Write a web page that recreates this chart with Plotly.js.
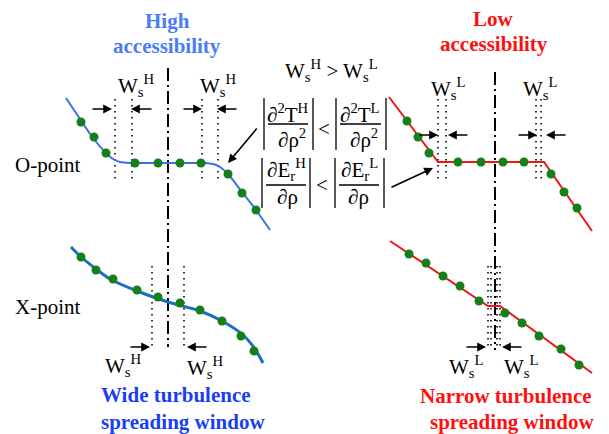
<!DOCTYPE html>
<html><head><meta charset="utf-8">
<script src="https://cdn.plot.ly/plotly-3.0.1.min.js"></script>
<style>html,body{margin:0;padding:0;background:#fff}#chart{width:609px;height:434px}</style>
</head><body><div id="chart"></div><script>
// ---- profile curves (schematic coordinates) ----
const oHighCurveX = [66, 82, 93, 106, 113, 120, 130, 160, 190, 205, 213, 220, 228, 242, 256, 270];
const oHighCurveY = [98, 122, 138, 153, 159, 162, 163, 163, 163, 163, 164, 167, 174, 192, 210, 230];
const oHighDotsX = [81, 94, 106, 135, 158, 180, 201, 228, 242, 256];
const oHighDotsY = [122, 137, 153, 163, 163, 163, 163, 174, 193, 210];

const oLowCurveX = [389, 438, 544, 592];
const oLowCurveY = [97, 162, 162, 231];
const oLowDotsX = [407, 418, 429, 458, 481, 503, 524, 551, 564, 577];
const oLowDotsY = [121, 137, 153, 162, 162, 162, 162, 174, 192, 208];

const xHighCurveX = [71, 80, 96, 110, 137, 168, 200, 222, 243, 255, 263];
const xHighCurveY = [247, 256, 269, 279, 291, 302, 311, 321, 335, 349, 363];
const xHighDotsX = [81, 96, 113, 137, 158, 180, 200, 222, 241, 254];
const xHighDotsY = [257, 270, 279, 290, 297, 303, 310, 321, 336, 351];

const xLowCurveX = [390, 488, 500, 592];
const xLowCurveY = [241, 306, 306, 373];
const xLowDotsX = [409, 426, 443, 460, 479, 505, 522, 539, 561, 579];
const xLowDotsY = [254, 263, 276, 286, 301, 313, 323, 336, 349, 365];

// ---- window guides ----
const axisX = [168, 495];
const axisTop = [68, 72];
const axisBottom = [347, 350];
const oHighWinX = [115, 132, 202, 218];
const oLowWinX = [438, 446, 536, 541];
const oWinTop = 99, oWinBottom = 183;
const xHighWinX = [152, 184];
const xLowWinX = [488, 491, 497, 500];
const xWinTop = 266, xWinBottom = 349;

// arrows: [tailX, headX, y]
const oHighArrows = [[91, 112, 109], [153, 131, 109], [182, 202, 109], [238, 217, 109]];
const oLowArrows = [[418, 438, 135], [469, 448, 135], [517, 537, 135], [567, 546, 135]];
const xHighArrows = [[129, 150, 347], [208, 187, 347]];
const xLowArrows = [[465, 486, 347], [523, 502, 347]];
const pointerArrows = [[258, 127, 228, 163], [390, 188, 433, 168]];

// labels
const wLabels = [
  ['W<sub>s</sub><sup>H</sup>', 136, 85], ['W<sub>s</sub><sup>H</sup>', 218, 85],
  ['W<sub>s</sub><sup>L</sup>', 448, 88], ['W<sub>s</sub><sup>L</sup>', 540, 88],
  ['W<sub>s</sub><sup>H</sup>', 123, 365], ['W<sub>s</sub><sup>H</sup>', 205, 367],
  ['W<sub>s</sub><sup>L</sup>', 466, 366], ['W<sub>s</sub><sup>L</sup>', 521, 366],
  ['W<sub>s</sub><sup>H</sup> &gt; W<sub>s</sub><sup>L</sup>', 331, 70]
];
const blueTitles = [['<b>High</b>', 167, 21], ['<b>accessibility</b>', 167, 46]];
const redTitles = [['<b>Low</b>', 493, 19], ['<b>accessibility</b>', 494, 44]];
const blueFoot = [['<b>Wide turbulence</b>', 176, 395], ['<b>spreading window</b>', 183, 422]];
const redFoot = [['<b>Narrow turbulence</b>', 506, 396], ['<b>spreading window</b>', 512, 422]];
const sideLabels = [['O-point', 47, 165], ['X-point', 47, 307]];

// formula block
const formulaText = [
  ['∂<sup>2</sup>T<sup>H</sup>', 288, 113], ['∂ρ<sup>2</sup>', 292, 138],
  ['∂<sup>2</sup>T<sup>L</sup>', 360, 113], ['∂ρ<sup>2</sup>', 364, 138],
  ['&lt;', 324, 129],
  ['∂E<sub>r</sub><sup>H</sup>', 286, 169], ['∂ρ', 287, 197],
  ['∂E<sub>r</sub><sup>L</sup>', 359, 169], ['∂ρ', 358, 197],
  ['&lt;', 322, 185]
];
const absBarsX = [[264, 313, 336, 386], [262, 310, 335, 384]];
const absBarsY = [[98, 150], [158, 208]];
const fracBars = [[268, 308, 124], [340, 381, 124], [266, 306, 185], [339, 379, 185]];

const serif = 'Liberation Serif, Times New Roman, serif';
const traces = [];
function seg(xs, y0, y1) {
  const X = [], Y = [];
  xs.forEach(x => { X.push(x, x, null); Y.push(y0, y1, null); });
  return {X, Y};
}
// dotted windows
[[oHighWinX, oWinTop, oWinBottom], [oLowWinX, oWinTop, oWinBottom], [xHighWinX, xWinTop, xWinBottom], [xLowWinX, xWinTop, xWinBottom]].forEach(g => {
  const s = seg(g[0], g[1], g[2]);
  traces.push({x: s.X, y: s.Y, mode: 'lines', line: {color: '#000', width: 1.6, dash: '1.6px,4.4px'}, hoverinfo: 'skip'});
});
// dash-dot axes
axisX.forEach((x, i) => traces.push({x: [x, x], y: [axisTop[i], axisBottom[i]], mode: 'lines',
  line: {color: '#000', width: 2, dash: '13px,4px,2px,4px'}, hoverinfo: 'skip'}));
// curves
traces.push({x: oHighCurveX, y: oHighCurveY, mode: 'lines', line: {color: '#3d6ef0', width: 2, shape: 'spline', smoothing: 0.8}});
traces.push({x: oLowCurveX, y: oLowCurveY, mode: 'lines', line: {color: '#ee1515', width: 2}});
traces.push({x: xHighCurveX, y: xHighCurveY, mode: 'lines', line: {color: '#1b6ec4', width: 3, shape: 'spline', smoothing: 0.8}});
traces.push({x: xLowCurveX, y: xLowCurveY, mode: 'lines', line: {color: '#ee1515', width: 2}});
[[oHighDotsX, oHighDotsY], [oLowDotsX, oLowDotsY], [xHighDotsX, xHighDotsY], [xLowDotsX, xLowDotsY]].forEach(d =>
  traces.push({x: d[0], y: d[1], mode: 'markers', marker: {color: '#15801a', size: 9, line: {width: 0}}}));

const annotations = [];
function arrow(tx, ty, hx, hy) {
  annotations.push({x: hx, y: hy, ax: tx, ay: ty, xref: 'x', yref: 'y', axref: 'x', ayref: 'y', text: '',
    showarrow: true, arrowhead: 2, arrowsize: 1.1, arrowwidth: 1.6, arrowcolor: '#000', standoff: 0, startstandoff: 0});
}
[oHighArrows, oLowArrows, xHighArrows, xLowArrows].forEach(g => g.forEach(a => arrow(a[0], a[2], a[1], a[2])));
pointerArrows.forEach(a => arrow(a[0], a[1], a[2], a[3]));
function label(list, size, color) {
  list.forEach(l => annotations.push({x: l[1], y: l[2], xref: 'x', yref: 'y', text: l[0], showarrow: false,
    xanchor: 'center', yanchor: 'middle', borderpad: 0, font: {family: serif, size: size, color: color}}));
}
label(wLabels, 21, '#000');
label(blueTitles, 21, '#4a7cf4');
label(redTitles, 21, '#ff1010');
label(blueFoot, 21, '#1a3ff0');
label(redFoot, 21, '#ff1010');
label(sideLabels, 21, '#000');
label(formulaText, 21, '#000');

const shapes = [];
absBarsX.forEach((row, r) => row.forEach(x => shapes.push({type: 'line', xref: 'x', yref: 'y', x0: x, x1: x,
  y0: absBarsY[r][0], y1: absBarsY[r][1], line: {color: '#000', width: 1.3}})));
fracBars.forEach(f => shapes.push({type: 'line', xref: 'x', yref: 'y', x0: f[0], x1: f[1], y0: f[2], y1: f[2],
  line: {color: '#000', width: 1.3}}));

const layout = {
  width: 609, height: 434, margin: {l: 0, r: 0, t: 0, b: 0},
  paper_bgcolor: '#fff', plot_bgcolor: '#fff', showlegend: false,
  xaxis: {range: [0, 609], visible: false, fixedrange: true},
  yaxis: {range: [434, 0], visible: false, fixedrange: true},
  annotations, shapes
};
Plotly.newPlot('chart', traces, layout, {staticPlot: true, displayModeBar: false});
</script></body></html>
